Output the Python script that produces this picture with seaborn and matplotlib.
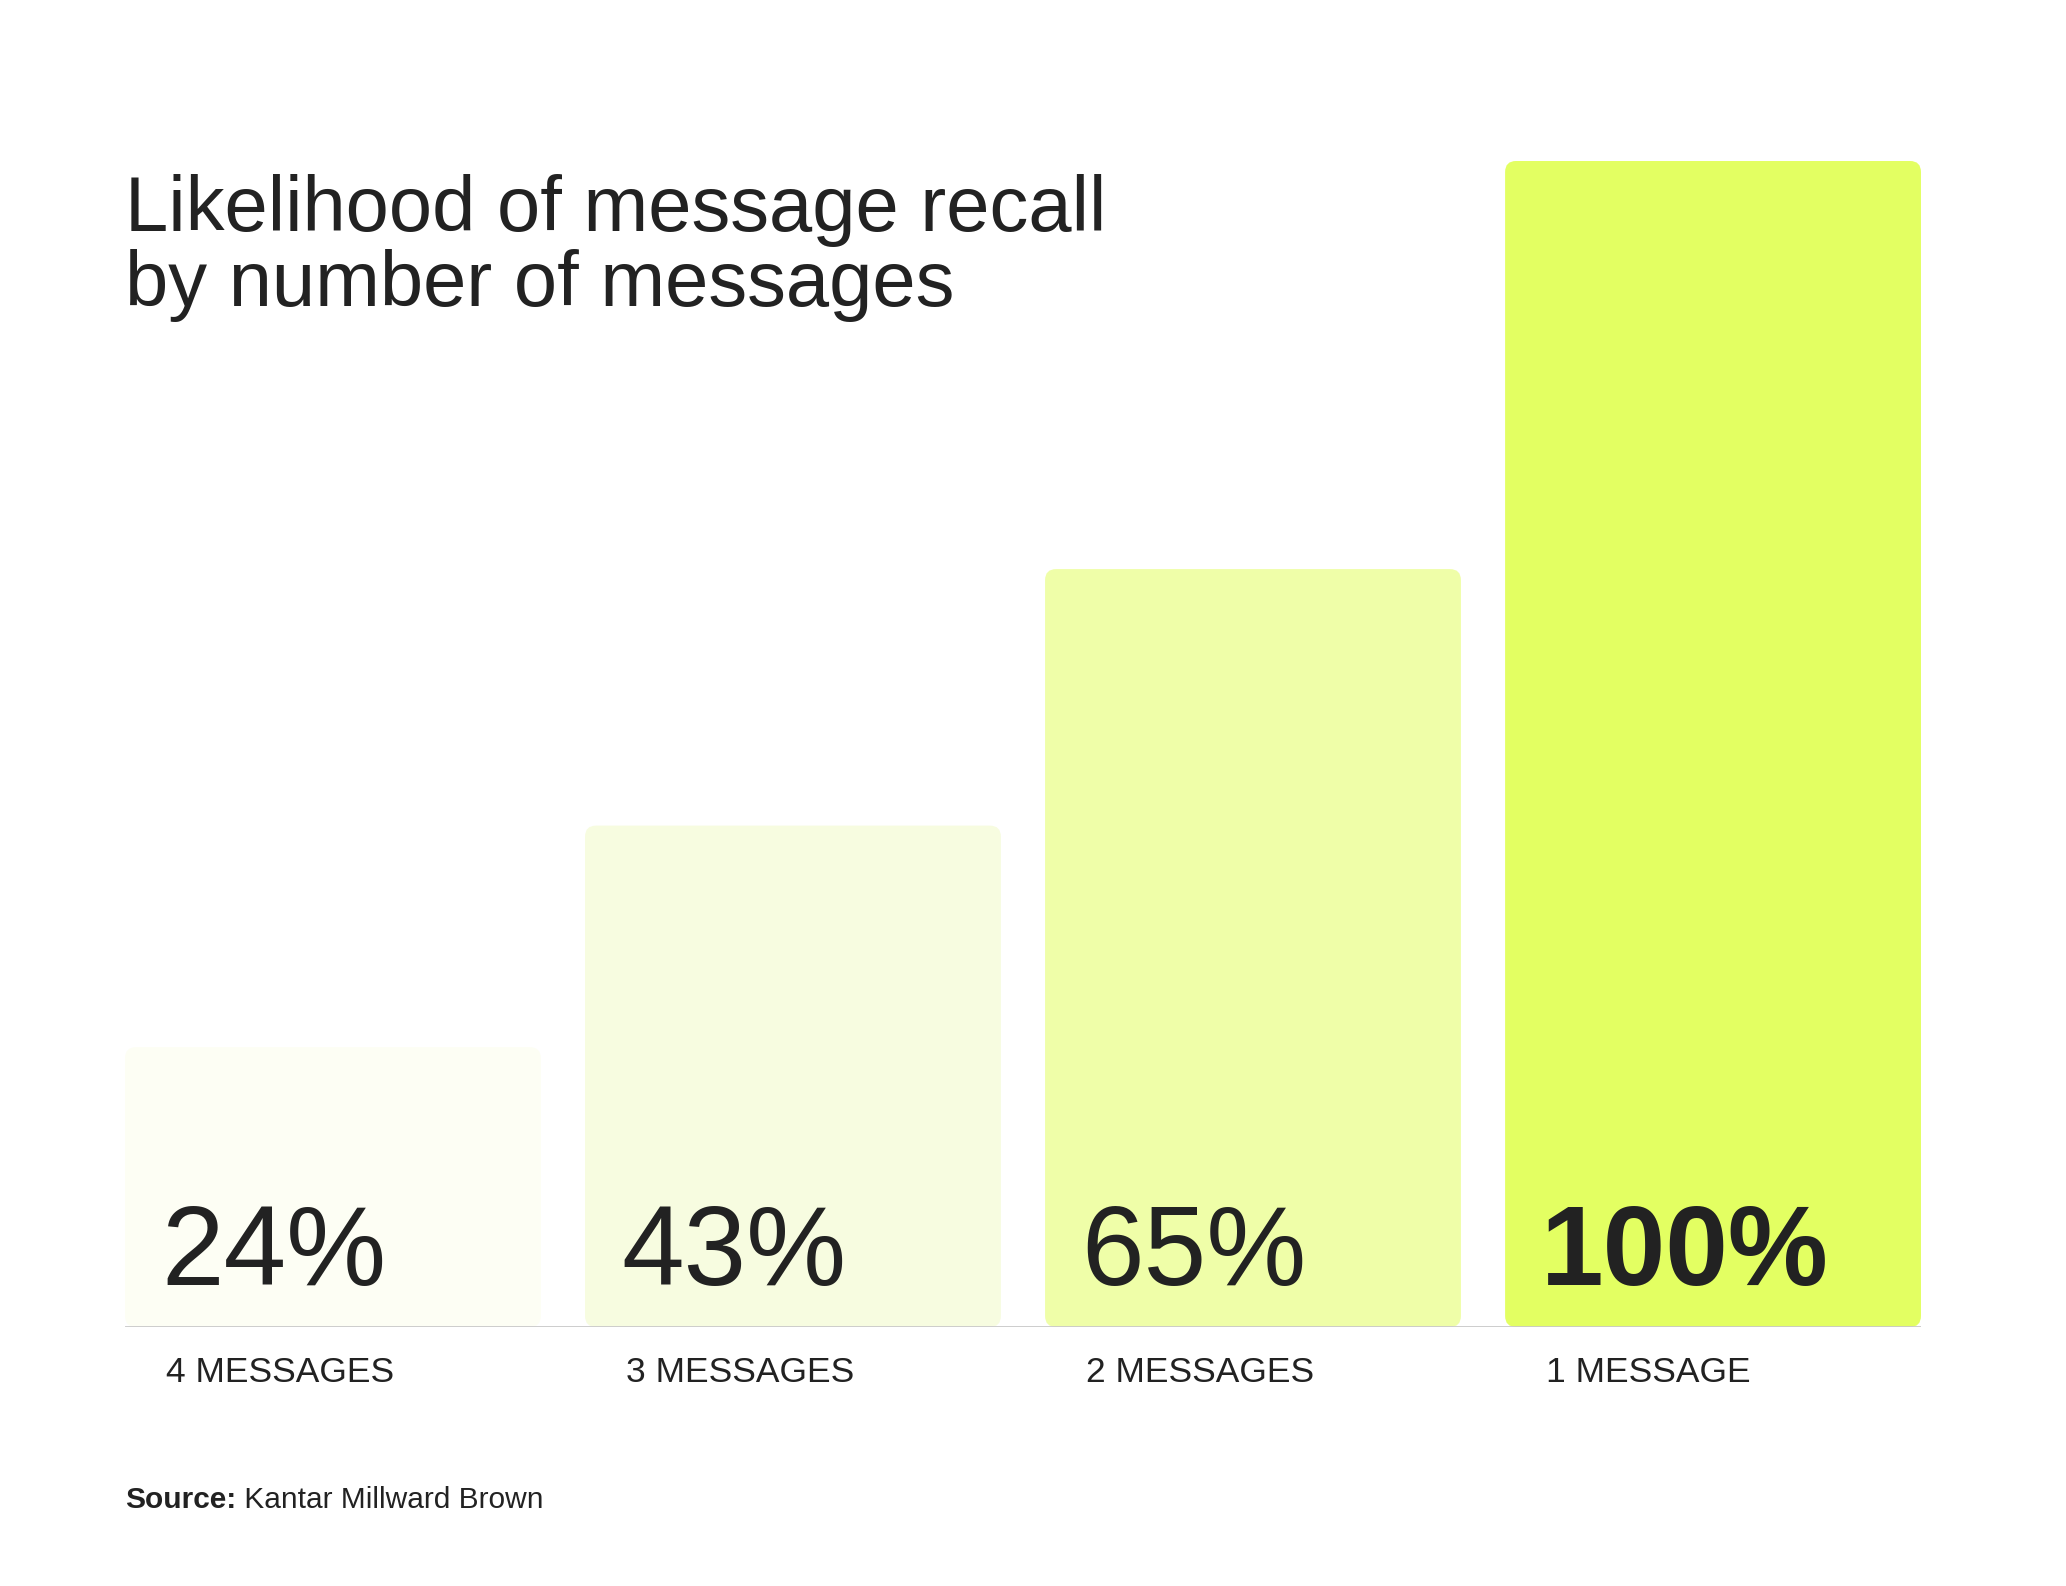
import matplotlib
matplotlib.use("Agg")
import matplotlib.pyplot as plt
from matplotlib.patches import FancyBboxPatch
import matplotlib.transforms as mtransforms
import seaborn as sns
import pandas as pd

# Data
categories = ["4 MESSAGES", "3 MESSAGES", "2 MESSAGES", "1 MESSAGE"]
recall = [24, 43, 65, 100]
value_labels = ["24%", "43%", "65%", "100%"]
bar_colors = ["#FDFEF4", "#F7FCE0", "#EFFEA8", "#E3FF62"]

title = "Likelihood of message recall\nby number of messages"
source_bold = "Source:"
source_text = " Kantar Millward Brown"

sns.set_theme(style="white")
FONT = "Liberation Sans"
plt.rcParams["font.family"] = [FONT, "DejaVu Sans"]
INK = "#222222"

fig = plt.figure(figsize=(20.66, 15.86), dpi=100)
ax = fig.add_axes([0.0605, 0.1633, 0.8693, 0.7352])
ax.set_facecolor("none")

df = pd.DataFrame({"category": categories, "recall": recall})
bar_w = 0.904
sns.barplot(data=df, x="category", y="recall", hue="category",
            palette=bar_colors, width=bar_w, saturation=1, legend=False, ax=ax)

ax.set_xlim(-bar_w / 2, len(categories) - 1 + bar_w / 2)
ax.set_ylim(0, 100)

# swap plain rectangles for rounded ones built from the same geometry
px_per_x = 1796 / (len(categories) - 1 + bar_w)
px_per_y = 1166 / 100
radius_px = 11
rx = radius_px / px_per_x
aspect = (radius_px / px_per_y) / rx
for p in list(ax.patches):
    x0, y0 = p.get_x(), p.get_y()
    w, h = p.get_width(), p.get_height()
    fc = p.get_facecolor()
    p.remove()
    ax.add_patch(FancyBboxPatch((x0, y0), w, h,
                                boxstyle=f"round,pad=0,rounding_size={rx}",
                                mutation_aspect=aspect, facecolor=fc,
                                edgecolor="none", zorder=2))

# baseline
ax.axhline(0, color="#C9C9C9", lw=2, zorder=3)

for s in ax.spines.values():
    s.set_visible(False)
ax.set_xticks([])
ax.set_yticks([])
ax.set_xlabel("")
ax.set_ylabel("")

# value labels inside bars, category labels under the baseline
cat_trans = mtransforms.blended_transform_factory(ax.transData, ax.transAxes)
for i, (lab, cat) in enumerate(zip(value_labels, categories)):
    bold = recall[i] == max(recall)
    ax.text(i - bar_w / 2 + 0.078, 3.6, lab, ha="left", va="baseline",
            fontsize=81, color=INK, fontweight="bold" if bold else "normal",
            zorder=4)
    ax.text(i - bar_w / 2 + 0.09, -0.0472, cat, ha="left", va="baseline",
            fontsize=25.5, color=INK, transform=cat_trans)

# title (baseline of the last line)
fig.text(125 / 2066, 1 - 306 / 1586, title, ha="left", va="baseline",
         fontsize=56, color=INK, linespacing=1.03)

# source line
src_y = 1 - 1508 / 1586
t1 = fig.text(125 / 2066, src_y, source_bold, ha="left",
              va="baseline", fontsize=21.5, fontweight="bold", color=INK)
fig.canvas.draw()
bb = t1.get_window_extent(renderer=fig.canvas.get_renderer())
fig.text(bb.x1 / fig.bbox.width, src_y, source_text, ha="left",
         va="baseline", fontsize=21.5, color=INK)

fig.savefig("out.png", dpi=100, facecolor="white")
